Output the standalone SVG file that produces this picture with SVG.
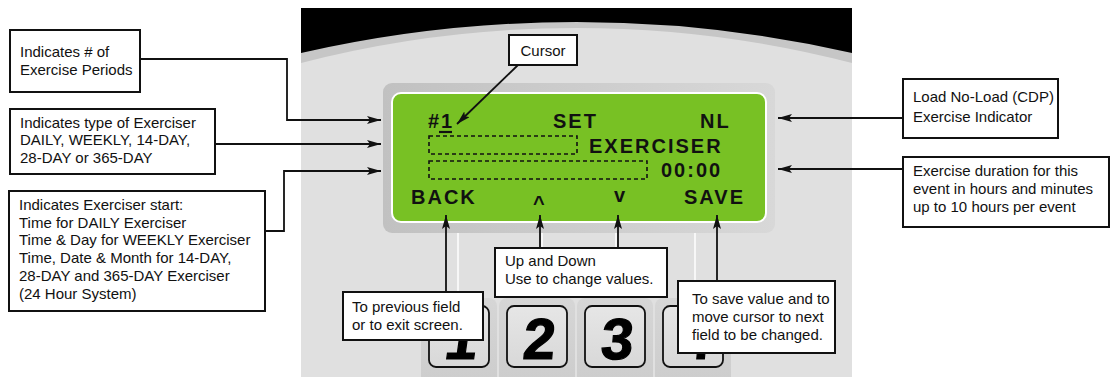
<svg xmlns="http://www.w3.org/2000/svg" width="1110" height="377" viewBox="0 0 1110 377">
<style>
.lbl{font-family:"Liberation Sans",Arial,sans-serif;font-size:15px;fill:#111}
.box{fill:#fff;stroke:#111;stroke-width:2}
.con{fill:none;stroke:#111;stroke-width:1.8}
.lcd{font-family:"Liberation Sans",Arial,sans-serif;font-size:20px;font-weight:bold;fill:#111;letter-spacing:2px}
.dash{fill:none;stroke:#111;stroke-width:1.6;stroke-dasharray:4 3}
.btn{fill:url(#btnG);stroke:#111;stroke-width:1.8}
.cell{fill:url(#cellG)}
.dig{font-family:"Liberation Sans",Arial,sans-serif;font-size:58px;font-weight:bold;fill:#000;stroke:#000;stroke-width:1.2;text-anchor:middle}
.wl{stroke:#fff;stroke-width:1.5}
</style>
<defs>
<marker id="arr" viewBox="0 0 14 8" refX="14" refY="4" markerWidth="14" markerHeight="8" markerUnits="userSpaceOnUse" orient="auto">
<path d="M0,0 L14,4 L0,8 L3,4 Z" fill="#111"/>
</marker>
<linearGradient id="bezG" x1="0" y1="0" x2="1" y2="0">
<stop offset="0" stop-color="#c1c1c1"/>
<stop offset="1" stop-color="#d8d8d8"/>
</linearGradient>
<linearGradient id="btnG" x1="0" y1="0" x2="0" y2="1">
<stop offset="0" stop-color="#e6e6e6"/>
<stop offset="1" stop-color="#d8d8d8"/>
</linearGradient>
<linearGradient id="cellG" x1="0" y1="0" x2="0" y2="1">
<stop offset="0" stop-color="#d6d6d6"/>
<stop offset="1" stop-color="#cccccc"/>
</linearGradient>
</defs>

<g id="panel">
<rect x="301" y="8" width="551" height="369" fill="#e0e0e0"/>
<path d="M301,8 H852 V63 A1102,1102 0 0 0 301,63 Z" fill="#c6c6c6"/>
<path d="M301,8 H852 V53 A1240,1240 0 0 0 301,53 Z" fill="#000"/>
<rect x="383" y="83" width="392" height="150" rx="9" fill="url(#bezG)"/>
<rect x="392" y="93" width="374" height="129" rx="9" fill="#78c124" stroke="#fff" stroke-width="2"/>
</g>

<g id="screen-text">
<text class="lcd" x="428" y="128" letter-spacing="1">#1</text>
<line x1="439" y1="132" x2="452" y2="132" stroke="#111" stroke-width="2.2"/>
<text class="lcd" x="553" y="128">SET</text>
<text class="lcd" x="700" y="128" letter-spacing="1">NL</text>
<rect class="dash" x="429" y="136" width="148" height="18"/>
<text class="lcd" x="589" y="153">EXERCISER</text>
<rect class="dash" x="429" y="161" width="218" height="18"/>
<text class="lcd" x="661" y="177" letter-spacing="2.6">00:00</text>
<text class="lcd" x="411" y="204" letter-spacing="1.4">BACK</text>
<text class="lcd" x="533" y="210" letter-spacing="0" font-size="22">^</text>
<text class="lcd" x="614" y="202" letter-spacing="0">v</text>
<text class="lcd" x="684" y="204" letter-spacing="1.8">SAVE</text>
</g>

<g id="keypad">
<line class="wl" x1="458" y1="233" x2="458" y2="306"/>
<line class="wl" x1="542" y1="233" x2="542" y2="306"/>
<line class="wl" x1="616" y1="233" x2="616" y2="306"/>
<line class="wl" x1="695" y1="233" x2="695" y2="306"/>
<rect class="cell" x="421" y="298" width="76" height="90" rx="8"/>
<rect class="cell" x="499" y="298" width="76" height="90" rx="8"/>
<rect class="cell" x="577" y="298" width="76" height="90" rx="8"/>
<rect class="cell" x="655" y="298" width="76" height="90" rx="8"/>
<g id="key1"><rect class="btn" x="429" y="306" width="60" height="61" rx="7"/><text class="dig" transform="translate(459,359) skewX(-8)">1</text></g>
<g id="key2"><rect class="btn" x="507" y="306" width="60" height="61" rx="7"/><text class="dig" transform="translate(538,359) skewX(-5)">2</text></g>
<g id="key3"><rect class="btn" x="585" y="306" width="60" height="61" rx="7"/><text class="dig" transform="translate(616,359) skewX(-5)">3</text></g>
<g id="key4"><rect class="btn" x="663" y="306" width="60" height="61" rx="7"/><text class="dig" transform="translate(694,359) skewX(-5)">4</text></g>
</g>

<g id="connectors">
<polyline class="con" points="140,59 287,59 287,120 381,120" marker-end="url(#arr)"/>
<polyline class="con" points="215,144 381,144" marker-end="url(#arr)"/>
<polyline class="con" points="265,231 284,231 284,171 381,171" marker-end="url(#arr)"/>
<polyline class="con" points="903,118 778,118" marker-end="url(#arr)"/>
<polyline class="con" points="903,169 778,169" marker-end="url(#arr)"/>
<line class="con" x1="518" y1="65" x2="457" y2="124" marker-end="url(#arr)"/>
<line class="con" x1="446" y1="292" x2="446" y2="215" marker-end="url(#arr)"/>
<line class="con" x1="540" y1="248" x2="540" y2="215" marker-end="url(#arr)"/>
<line class="con" x1="618" y1="248" x2="618" y2="215" marker-end="url(#arr)"/>
<line class="con" x1="717" y1="281" x2="717" y2="215" marker-end="url(#arr)"/>
</g>

<g id="n-periods">
<rect class="box" x="10" y="30" width="130" height="62"/>
<text class="lbl" x="20" y="57">Indicates # of</text>
<text class="lbl" x="20" y="74.5">Exercise Periods</text>
</g>
<g id="n-type">
<rect class="box" x="10" y="109" width="205" height="65"/>
<text class="lbl" x="20" y="127.5">Indicates type of Exerciser</text>
<text class="lbl" x="20" y="145">DAILY, WEEKLY, 14-DAY,</text>
<text class="lbl" x="20" y="162.5">28-DAY or 365-DAY</text>
</g>
<g id="n-start">
<rect class="box" x="9" y="191" width="256" height="120"/>
<text class="lbl" x="19" y="210">Indicates Exerciser start:</text>
<text class="lbl" x="19" y="227.7">Time for DAILY Exerciser</text>
<text class="lbl" x="19" y="245.4">Time &amp; Day for WEEKLY Exerciser</text>
<text class="lbl" x="19" y="263.1">Time, Date &amp; Month for 14-DAY,</text>
<text class="lbl" x="19" y="280.8">28-DAY and 365-DAY Exerciser</text>
<text class="lbl" x="19" y="298.5">(24 Hour System)</text>
</g>
<g id="n-cursor">
<rect class="box" x="509" y="35" width="68" height="30"/>
<text class="lbl" x="543" y="56" text-anchor="middle">Cursor</text>
</g>
<g id="n-load">
<rect class="box" x="903" y="79" width="155" height="59"/>
<text class="lbl" x="913" y="102">Load No-Load (CDP)</text>
<text class="lbl" x="913" y="121.5">Exercise Indicator</text>
</g>
<g id="n-duration">
<rect class="box" x="903" y="157" width="206" height="70"/>
<text class="lbl" x="913" y="175.5">Exercise duration for this</text>
<text class="lbl" x="913" y="193.5">event in hours and minutes</text>
<text class="lbl" x="913" y="211.5">up to 10 hours per event</text>
</g>
<g id="n-back">
<rect class="box" x="343" y="292" width="140" height="48"/>
<text class="lbl" x="352" y="312">To previous field</text>
<text class="lbl" x="352" y="329.5">or to exit screen.</text>
</g>
<g id="n-updown">
<rect class="box" x="495" y="248" width="172" height="49"/>
<text class="lbl" x="505" y="266">Up and Down</text>
<text class="lbl" x="505" y="283.5">Use to change values.</text>
</g>
<g id="n-save">
<rect class="box" x="678" y="281" width="157" height="72"/>
<text class="lbl" x="692" y="304">To save value and to</text>
<text class="lbl" x="692" y="322">move cursor to next</text>
<text class="lbl" x="692" y="340">field to be changed.</text>
</g>
</svg>
